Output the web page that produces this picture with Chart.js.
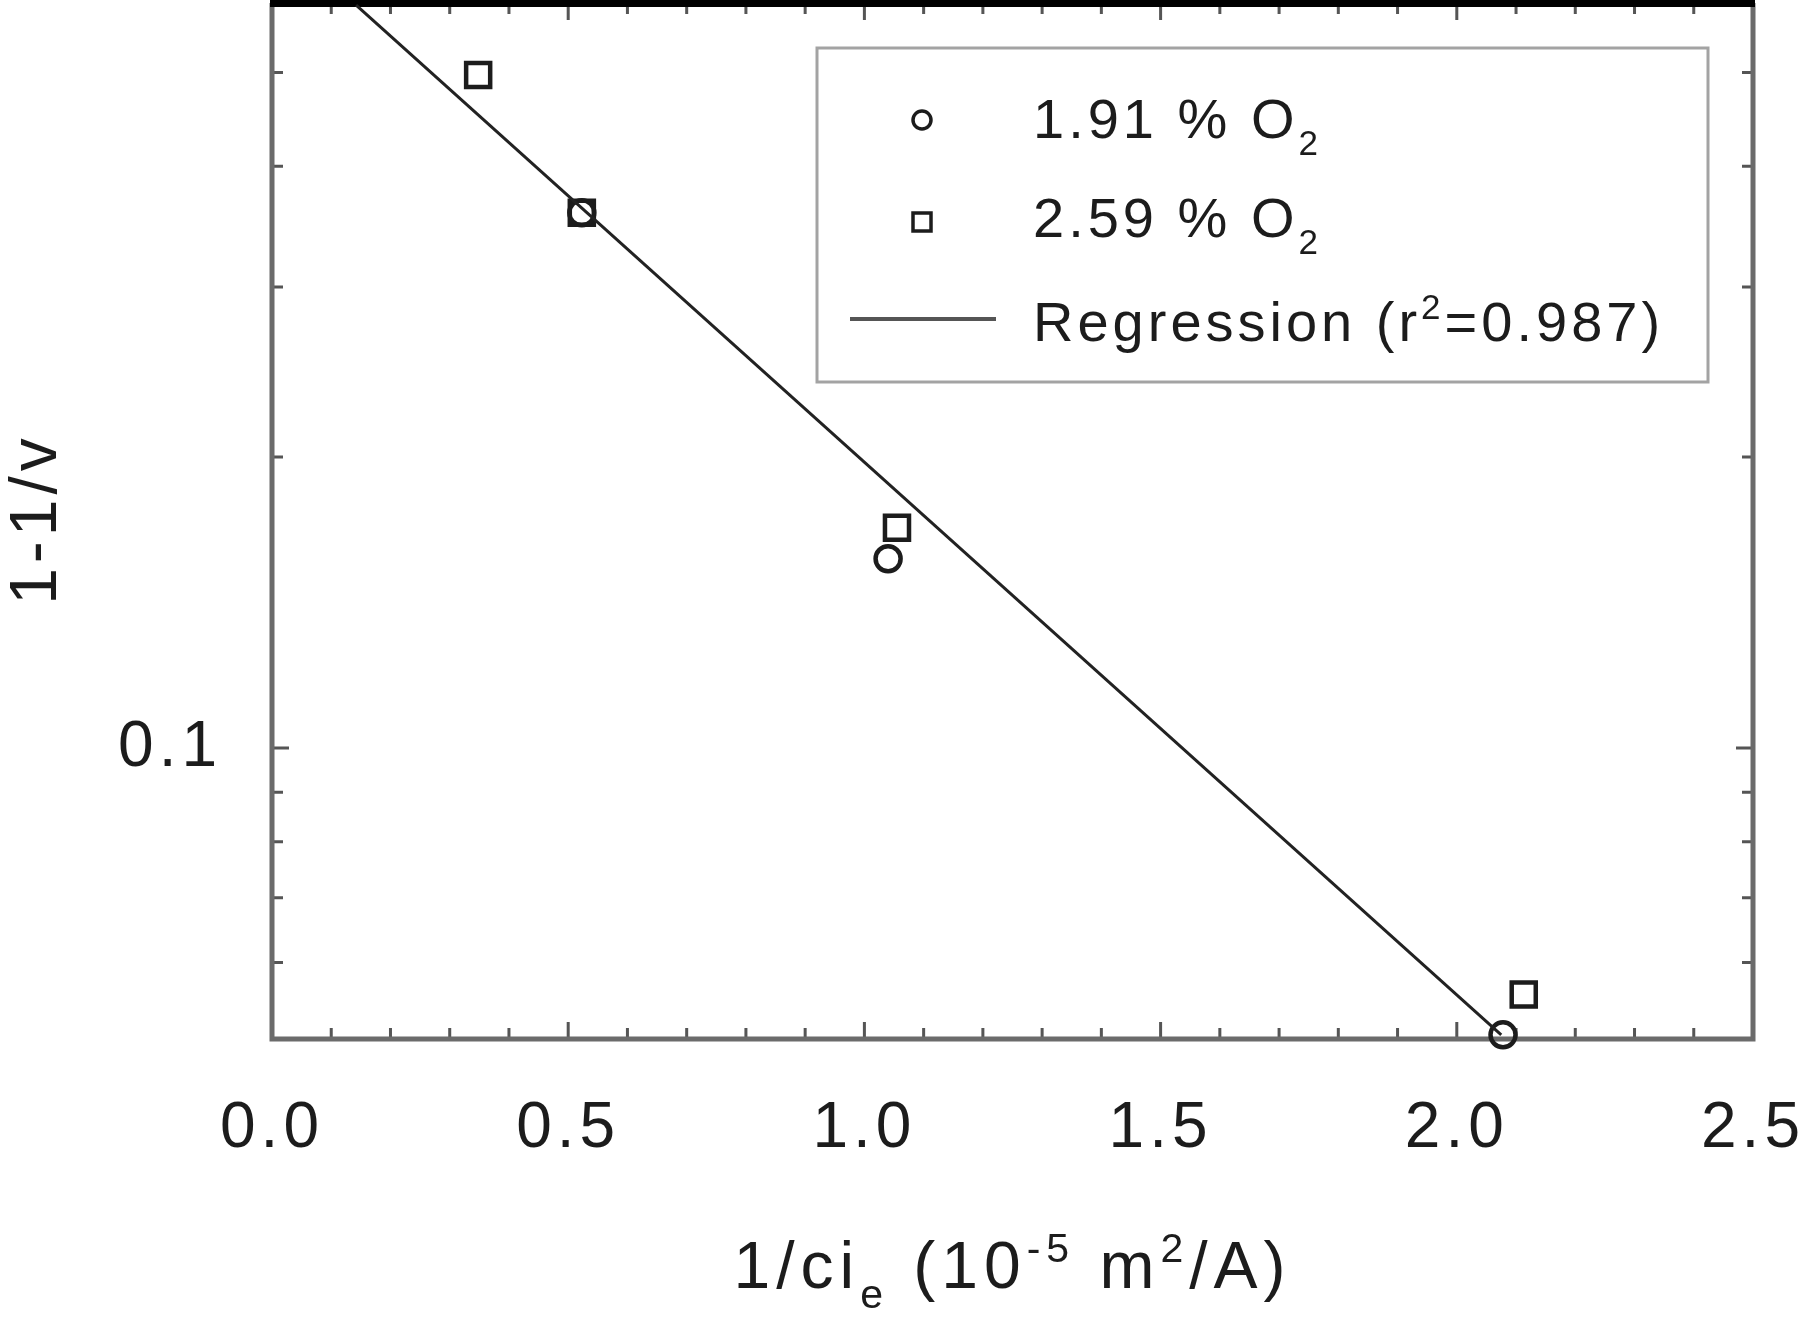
<!DOCTYPE html>
<html>
<head>
<meta charset="utf-8">
<script src="https://cdn.jsdelivr.net/npm/chart.js@4.4.1/dist/chart.umd.min.js"></script>
<style>
  html, body { margin: 0; padding: 0; background: #fff; }
  #chart { display: block; }
</style>
</head>
<body>
<canvas id="chart" width="1800" height="1317"></canvas>
<script>
// 1.91 % O2 (circles)
const circleX = [0.523, 1.040, 2.078];
const circleY = [0.358, 0.157, 0.0505];

// 2.59 % O2 (squares)
const squareX = [0.348, 0.523, 1.055, 2.113];
const squareY = [0.497, 0.358, 0.169, 0.0556];

const regX = [0.142, 2.075];
const regY = [0.587, 0.0505];

// axis ticks
const xTickValues = [0.0, 0.1, 0.2, 0.3, 0.4, 0.5, 0.6, 0.7, 0.8, 0.9, 1.0, 1.1, 1.2,
    1.3, 1.4, 1.5, 1.6, 1.7, 1.8, 1.9, 2.0, 2.1, 2.2, 2.3, 2.4, 2.5];
const xTickLabels = ['0.0', '0.5', '1.0', '1.5', '2.0', '2.5'];
const yTickValues = [0.05, 0.06, 0.07, 0.08, 0.09, 0.1, 0.2, 0.3, 0.4, 0.5];
const yTickLabels = ['0.1'];

const FONT = '"Liberation Sans", Arial, Helvetica, sans-serif';
const INK = '#1c1c1c';
const AXIS_GREY = '#6b6b6b';

function toPoints(xs, ys) {
    return xs.map((x, i) => ({ x: x, y: ys[i] }));
}

function labelFor(list, value) {
    const found = list.find(l => Math.abs(parseFloat(l) - value) < 1e-6);
    return found || '';
}

function isMajor(list, value) {
    return labelFor(list, value) !== '';
}

// draw text made of pieces, some of them sub- or superscript
function drawRich(ctx, parts, x, y, size, align) {
    const small = Math.round(size * 0.62);
    let width = 0;
    for (const p of parts) {
        ctx.font = `${p.sub || p.sup ? small : size}px ${FONT}`;
        width += ctx.measureText(p.t).width;
    }
    let cx = align === 'center' ? x - width / 2 : x;
    for (const p of parts) {
        ctx.font = `${p.sub || p.sup ? small : size}px ${FONT}`;
        let dy = 0;
        if (p.sup) dy = -size * 0.40;
        if (p.sub) dy = size * 0.30;
        ctx.fillText(p.t, cx, y + dy);
        cx += ctx.measureText(p.t).width;
    }
}

const frameAndTicks = {
    id: 'frameAndTicks',
    beforeDraw(chart) {
        chart.ctx.letterSpacing = '5px';
    },
    beforeDatasetsDraw(chart) {
        const ctx = chart.ctx;
        const ca = chart.chartArea;
        const xs = chart.scales.x;
        const ys = chart.scales.y;
        ctx.save();
        ctx.lineCap = 'butt';

        // inward tick marks on all four sides
        ctx.strokeStyle = '#555';
        ctx.lineWidth = 3;
        ctx.beginPath();
        for (const t of xs.ticks) {
            const px = xs.getPixelForValue(t.value);
            const len = isMajor(xTickLabels, t.value) ? 17 : 11;
            ctx.moveTo(px, ca.bottom);
            ctx.lineTo(px, ca.bottom - len);
            ctx.moveTo(px, ca.top);
            ctx.lineTo(px, ca.top + len);
        }
        for (const t of ys.ticks) {
            const py = ys.getPixelForValue(t.value);
            const len = isMajor(yTickLabels, t.value) ? 17 : 11;
            ctx.moveTo(ca.left, py);
            ctx.lineTo(ca.left + len, py);
            ctx.moveTo(ca.right, py);
            ctx.lineTo(ca.right - len, py);
        }
        ctx.stroke();

        // frame
        ctx.strokeStyle = AXIS_GREY;
        ctx.lineWidth = 5;
        ctx.beginPath();
        ctx.moveTo(ca.left, ca.top);
        ctx.lineTo(ca.left, ca.bottom);
        ctx.lineTo(ca.right, ca.bottom);
        ctx.lineTo(ca.right, ca.top);
        ctx.stroke();

        ctx.strokeStyle = '#000';
        ctx.lineWidth = 8;
        ctx.beginPath();
        ctx.moveTo(ca.left - 2, ca.top);
        ctx.lineTo(ca.right + 2, ca.top);
        ctx.stroke();
        ctx.restore();
    },
    afterDraw(chart) {
        const ctx = chart.ctx;
        const ca = chart.chartArea;
        ctx.save();
        ctx.fillStyle = INK;
        ctx.textBaseline = 'alphabetic';
        ctx.textAlign = 'left';
        ctx.letterSpacing = '4px';

        // legend box
        const boxLeft = ca.right - 936;
        const boxTop = ca.top + 45;
        ctx.strokeStyle = '#a3a3a3';
        ctx.lineWidth = 3;
        ctx.strokeRect(boxLeft, boxTop, 891, 334);

        const markX = boxLeft + 105;
        const textX = boxLeft + 216;
        ctx.strokeStyle = INK;
        ctx.lineWidth = 3.5;

        // circle entry
        ctx.beginPath();
        ctx.arc(markX, boxTop + 72, 9, 0, Math.PI * 2);
        ctx.stroke();
        drawRich(ctx, [{ t: '1.91 % O' }, { t: '2', sub: true }], textX, boxTop + 90, 56, 'left');

        // square entry
        ctx.strokeRect(markX - 9, boxTop + 165, 18, 18);
        drawRich(ctx, [{ t: '2.59 % O' }, { t: '2', sub: true }], textX, boxTop + 189, 56, 'left');

        // line entry
        ctx.strokeStyle = '#555';
        ctx.lineWidth = 4;
        ctx.beginPath();
        ctx.moveTo(boxLeft + 33, boxTop + 271);
        ctx.lineTo(boxLeft + 179, boxTop + 271);
        ctx.stroke();
        drawRich(ctx, [{ t: 'Regression (r' }, { t: '2', sup: true }, { t: '=0.987)' }],
            textX, boxTop + 293, 56, 'left');

        // x axis title
        ctx.letterSpacing = '6px';
        drawRich(ctx, [
            { t: '1/ci' }, { t: 'e', sub: true }, { t: ' (10' }, { t: '-5', sup: true },
            { t: ' m' }, { t: '2', sup: true }, { t: '/A)' }
        ], (ca.left + ca.right) / 2, 1288, 66, 'center');

        // y axis title
        ctx.letterSpacing = '5px';
        ctx.translate(56, (ca.top + ca.bottom) / 2 - 2);
        ctx.rotate(-Math.PI / 2);
        ctx.textAlign = 'center';
        ctx.font = `66px ${FONT}`;
        ctx.fillText('1-1/v', 0, 0);
        ctx.restore();
        ctx.letterSpacing = '0px';
    }
};

const markerStyle = {
    borderColor: INK,
    backgroundColor: 'rgba(0,0,0,0)',
    borderWidth: 4.5,
    showLine: false,
    clip: false
};

new Chart(document.getElementById('chart').getContext('2d'), {
    type: 'scatter',
    data: {
        datasets: [
            {
                label: 'Regression (r²=0.987)',
                data: toPoints(regX, regY),
                showLine: true,
                borderColor: '#222',
                borderWidth: 3,
                pointRadius: 0,
                fill: false,
                clip: false
            },
            Object.assign({
                label: '1.91 % O₂',
                data: toPoints(circleX, circleY),
                pointStyle: 'circle',
                pointRadius: 12.5
            }, markerStyle),
            Object.assign({
                label: '2.59 % O₂',
                data: toPoints(squareX, squareY),
                pointStyle: 'rect',
                pointRadius: 17
            }, markerStyle)
        ]
    },
    options: {
        responsive: false,
        devicePixelRatio: 1,
        animation: false,
        layout: {
            autoPadding: false,
            padding: { left: 0, right: 47, top: 3, bottom: 0 }
        },
        plugins: {
            legend: { display: false },
            tooltip: { enabled: false }
        },
        scales: {
            x: {
                type: 'linear',
                min: 0,
                max: 2.5,
                afterBuildTicks(scale) {
                    scale.ticks = xTickValues.map(v => ({ value: v }));
                },
                afterFit(scale) {
                    scale.height = 278;
                    scale.paddingLeft = 0;
                    scale.paddingRight = 0;
                },
                grid: { display: false, drawTicks: false },
                border: { display: false },
                ticks: {
                    autoSkip: false,
                    maxRotation: 0,
                    minRotation: 0,
                    padding: 52,
                    color: INK,
                    font: { family: FONT, size: 64 },
                    callback: (value) => labelFor(xTickLabels, value)
                }
            },
            y: {
                type: 'logarithmic',
                min: 0.05,
                max: 0.59,
                afterBuildTicks(scale) {
                    scale.ticks = yTickValues.map(v => ({ value: v }));
                },
                afterFit(scale) {
                    scale.width = 272;
                    scale.paddingTop = 0;
                    scale.paddingBottom = 0;
                },
                grid: { display: false, drawTicks: false },
                border: { display: false },
                ticks: {
                    autoSkip: false,
                    padding: 50,
                    color: INK,
                    font: { family: FONT, size: 64 },
                    callback: (value) => labelFor(yTickLabels, value)
                }
            }
        }
    },
    plugins: [frameAndTicks]
});
</script>
</body>
</html>
